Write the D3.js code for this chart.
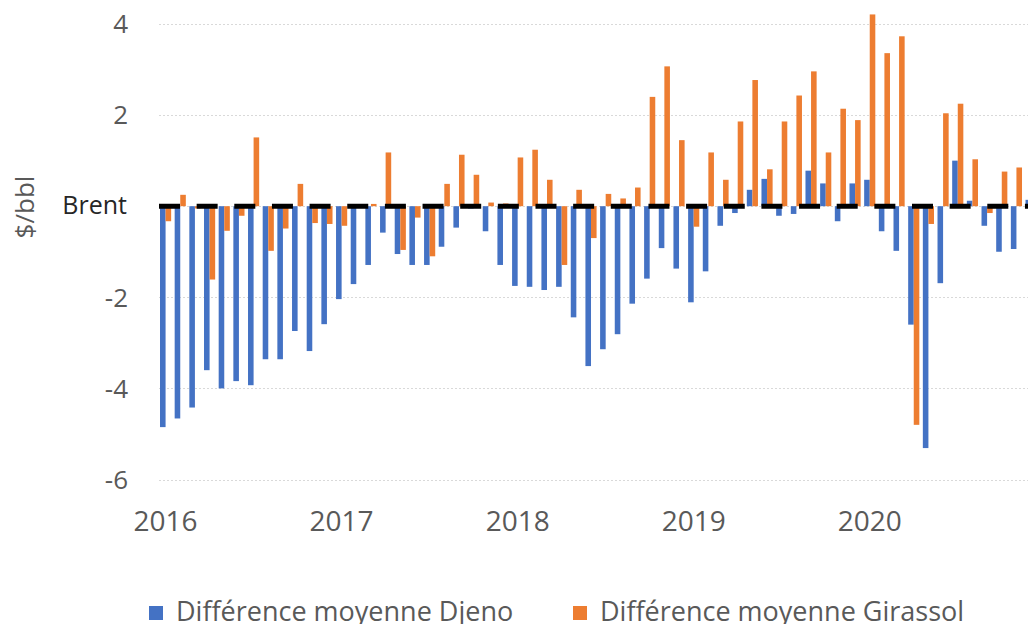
<!DOCTYPE html>
<html>
<head>
<meta charset="utf-8">
<script src="https://cdn.jsdelivr.net/npm/d3@7"></script>
<style>
  body { margin: 0; background: #fff; }
  svg { display: block; font-family: "Open Sans", sans-serif; }
</style>
</head>
<body>
<svg width="1028" height="624"></svg>
<script>
var years = [2016, 2017, 2018, 2019, 2020];
var months = [];
years.forEach(function(y) {
    for (var m = 1; m <= 12; m++) months.push(y + "-" + (m < 10 ? "0" + m : m));
});

var djeno = [
    -4.85, -4.66, -4.42, -3.60, -4.00, -3.84, -3.93, -3.36, -3.36, -2.74, -3.18, -2.59,
    -2.04, -1.71, -1.29, -0.58, -1.05, -1.29, -1.29, -0.89, -0.47, -0.05, -0.55, -1.29,
    -1.75, -1.77, -1.84, -1.77, -2.44, -3.51, -3.14, -2.81, -2.14, -1.59, -0.92, -1.37,
    -2.11, -1.43, -0.43, -0.15, 0.36, 0.60, -0.21, -0.17, 0.78, 0.50, -0.33, 0.50,
    0.58, -0.55, -0.98, -2.60, -5.31, -1.69, 1.00, 0.12, -0.43, -1.00, -0.94, 0.14
];
var girassol = [
    -0.33, 0.25, -0.05, -1.61, -0.54, -0.21, 1.51, -0.98, -0.49, 0.49, -0.37, -0.39,
    -0.43, 0.03, 0.05, 1.18, -0.96, -0.25, -1.10, 0.49, 1.13, 0.69, 0.08, 0.06,
    1.07, 1.24, 0.58, -1.29, 0.36, -0.70, 0.27, 0.17, 0.41, 2.40, 3.07, 1.45,
    -0.45, 1.18, 0.58, 1.86, 2.77, 0.81, 1.86, 2.43, 2.96, 1.18, 2.14, 1.89,
    4.21, 3.36, 3.73, -4.80, -0.39, 2.04, 2.25, 1.03, -0.15, 0.76, 0.85, 0.50
];
var yTicks = [4, 2, 0, -2, -4, -6];
var seriesNames = ["Différence moyenne Djeno", "Différence moyenne Girassol"];
var colors = ["#4472C4", "#ED7D31"];

var svg = d3.select("svg");
var step = 14.67;
var x0 = 158.24;

var x = d3.scaleBand()
    .domain(months)
    .range([x0, x0 + step * months.length])
    .paddingInner(0.24)
    .paddingOuter(0.12);

var xs = d3.scaleBand()
    .domain([0, 1])
    .range([0, x.bandwidth()]);

var y = d3.scaleLinear()
    .domain([-6, 4])
    .range([479.5, 24]);

// gridlines
svg.append("g")
    .selectAll("line")
    .data(yTicks)
    .enter()
    .append("line")
    .attr("x1", 159)
    .attr("x2", 1040)
    .attr("y1", function(d) { return Math.round(y(d)) + 0.5; })
    .attr("y2", function(d) { return Math.round(y(d)) + 0.5; })
    .attr("stroke", "#d9d9d9")
    .attr("stroke-width", 1)
    .attr("stroke-dasharray", "2,2");

// y tick labels
svg.append("g")
    .selectAll("text")
    .data(yTicks.filter(function(d) { return d !== 0; }))
    .enter()
    .append("text")
    .attr("x", 128)
    .attr("y", function(d) { return y(d); })
    .attr("dy", "0.36em")
    .attr("text-anchor", "end")
    .attr("fill", "#595959")
    .style("font-size", "26px")
    .text(function(d) { return d; });

svg.append("text")
    .attr("x", 127)
    .attr("y", y(0))
    .attr("dy", "0.3em")
    .attr("text-anchor", "end")
    .attr("fill", "#262626")
    .style("font-size", "25px")
    .text("Brent");

svg.append("text")
    .attr("transform", "translate(34," + 207 + ") rotate(-90)")
    .attr("text-anchor", "middle")
    .attr("fill", "#595959")
    .style("font-size", "26px")
    .text("$/bbl");

// x labels at each January
svg.append("g")
    .selectAll("text")
    .data(years)
    .enter()
    .append("text")
    .attr("x", function(d) { return x(d + "-01") + x.bandwidth() / 2; })
    .attr("y", 531)
    .attr("text-anchor", "middle")
    .attr("fill", "#595959")
    .style("font-size", "28px")
    .text(function(d) { return d; });

// bars
[djeno, girassol].forEach(function(values, s) {
    svg.append("g")
        .selectAll("rect")
        .data(values)
        .enter()
        .append("rect")
        .attr("x", function(d, i) { return x(months[i]) + xs(s); })
        .attr("width", xs.bandwidth())
        .attr("y", function(d) { return y(Math.max(0, d)); })
        .attr("height", function(d) { return Math.abs(y(d) - y(0)); })
        .attr("fill", colors[s]);
});

// Brent reference line
svg.append("line")
    .attr("x1", 159)
    .attr("x2", 1040)
    .attr("y1", y(0))
    .attr("y2", y(0))
    .attr("stroke", "#000")
    .attr("stroke-width", 5)
    .attr("stroke-dasharray", "21,16.65");

// legend
var legendX = [149, 573];
var legend = svg.append("g")
    .selectAll("g")
    .data(seriesNames)
    .enter()
    .append("g")
    .attr("transform", function(d, i) { return "translate(" + legendX[i] + ",606)"; });

legend.append("rect")
    .attr("width", 14)
    .attr("height", 14)
    .attr("fill", function(d, i) { return colors[i]; });

legend.append("text")
    .attr("x", 27)
    .attr("y", 15)
    .attr("fill", "#595959")
    .style("font-size", "27px")
    .text(function(d) { return d; });
</script>
</body>
</html>
